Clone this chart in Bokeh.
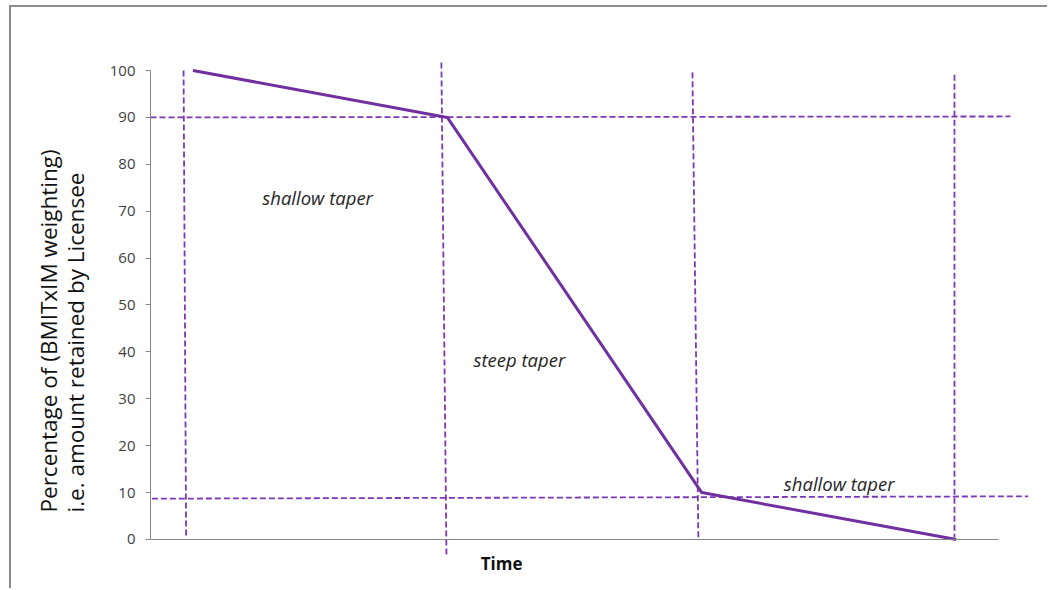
from bokeh.plotting import figure
from bokeh.models import Range1d, Label, FixedTicker, ColumnDataSource, Title
from bokeh.embed import file_html
from bokeh.resources import INLINE

# ---- data ----
time = [5, 35, 65, 95]
pct = [100, 90, 10, 0]
y_ticks = [0, 10, 20, 30, 40, 50, 60, 70, 80, 90, 100]

# dashed guide lines (hand-drawn in the original, slightly slanted)
guide_v_x0 = [3.9, 34.3, 63.9, 94.8]
guide_v_y0 = [100.0, 101.7, 99.6, 99.1]
guide_v_x1 = [4.2, 34.9, 64.6, 94.8]
guide_v_y1 = [0.4, -3.6, 0.4, 0.4]

guide_h_x0 = [0.0, -0.9]
guide_h_y0 = [90.0, 8.7]
guide_h_x1 = [101.4, 103.5]
guide_h_y1 = [90.2, 9.2]

notes = ["shallow taper", "steep taper", "shallow taper"]
note_x = [19.7, 43.5, 81.2]
note_y = [72.9, 38.4, 11.9]

y_title_lines = ["Percentage of (BMITxIM weighting)", "i.e. amount retained by Licensee"]
x_title = "Time"

PURPLE = "#7030A0"
GUIDE = "#7b38b6"
AXIS = "#868686"

p = figure(width=1038, height=583, output_backend="svg", toolbar_location=None,
           x_range=Range1d(0, 104), y_range=Range1d(-8.32, 102.56),
           min_border_left=139, min_border_right=17, min_border_top=51,
           min_border_bottom=12, background_fill_color="white",
           border_fill_color="white", outline_line_color=None)
p.styles = {"margin-left": "9px", "margin-top": "5px",
            "border-left": "2px solid #8c8c8c", "border-top": "2px solid #8c8c8c"}
p.xgrid.visible = False
p.ygrid.visible = False

# axes
p.yaxis.bounds = (0, 100)
p.yaxis.ticker = FixedTicker(ticks=y_ticks)
p.yaxis.axis_line_color = AXIS
p.yaxis.major_tick_line_color = AXIS
p.yaxis.minor_tick_line_color = None
p.yaxis.major_tick_out = 5
p.yaxis.major_tick_in = 0
p.yaxis.major_label_standoff = 10
p.yaxis.major_label_text_font = "Open Sans"
p.yaxis.major_label_text_font_size = "15px"
p.yaxis.major_label_text_color = "#404040"

p.xaxis.fixed_location = 0
p.xaxis.bounds = (0, 100)
p.xaxis.ticker = FixedTicker(ticks=[])
p.xaxis.axis_line_color = AXIS
p.xaxis.major_tick_line_color = None
p.xaxis.minor_tick_line_color = None
p.xaxis.major_label_text_font_size = "0px"

# y axis title: two lines
p.add_layout(Title(text="\n".join(y_title_lines), align="left", offset=66,
                   text_font="Open Sans", text_font_style="normal",
                   text_font_size="22.5px", text_line_height=0.9,
                   text_color="#111111", standoff=30), "left")

# guides
vs = ColumnDataSource(dict(x0=guide_v_x0, y0=guide_v_y0, x1=guide_v_x1, y1=guide_v_y1))
hs = ColumnDataSource(dict(x0=guide_h_x0, y0=guide_h_y0, x1=guide_h_x1, y1=guide_h_y1))
p.segment("x0", "y0", "x1", "y1", source=vs, line_color=GUIDE, line_width=1.8, line_dash="6 3")
p.segment("x0", "y0", "x1", "y1", source=hs, line_color=GUIDE, line_width=1.8, line_dash="6 3")

# main line
p.line(time, pct, line_color=PURPLE, line_width=3)

for t, x, y in zip(notes, note_x, note_y):
    p.add_layout(Label(x=x, y=y, text=t, text_align="center", text_baseline="middle",
                       text_font="Open Sans", text_font_style="italic",
                       text_font_size="18.5px", text_color="#262626"))

p.add_layout(Label(x=41.4, y=-5.1, text=x_title, text_align="center", text_baseline="middle",
                   text_font="Open Sans", text_font_style="bold", text_font_size="17px",
                   text_color="#111111"))

open("out.html", "w").write(file_html(p, INLINE))
